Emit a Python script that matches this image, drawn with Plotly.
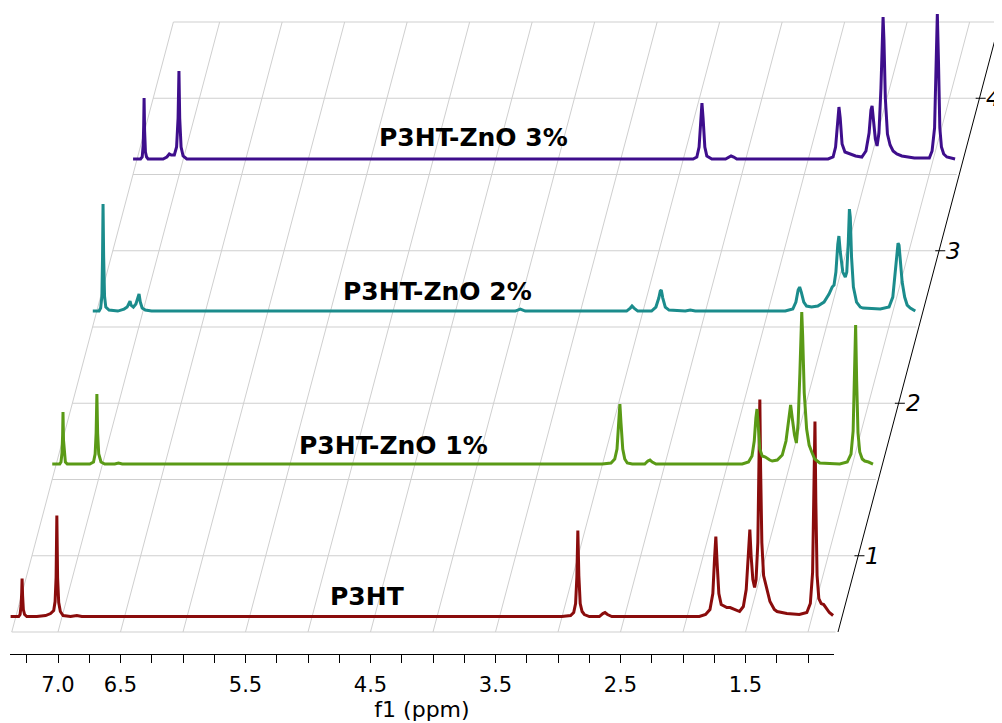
import plotly.graph_objects as go

# ---------------- data: (ppm, intensity) ----------------
p3ht = [(7.41, 1), (7.345, 1), (7.334, 3), (7.326, 12), (7.321, 25), (7.318, 39), (7.314, 22), (7.308, 8),
        (7.298, 3), (7.28, 1),
        (7.20, 1), (7.13, 2), (7.09, 4), (7.065, 7), (7.054, 16), (7.046, 40), (7.040, 102), (7.034, 40),
        (7.025, 15), (7.012, 6), (6.99, 2), (6.93, 1), (6.88, 2), (6.84, 1), (3.00, 1), (2.93, 2), (2.905, 5),
        (2.890, 14), (2.880, 40), (2.872, 87), (2.864, 42), (2.853, 14), (2.838, 6), (2.82, 3), (2.78, 1),
        (2.70, 1), (2.672, 4), (2.655, 5), (2.635, 3), (2.60, 1), (1.90, 1), (1.85, 3), (1.815, 8),
        (1.792, 24), (1.778, 60), (1.768, 81), (1.758, 55), (1.744, 24), (1.725, 13), (1.68, 10),
        (1.654, 10), (1.62, 8), (1.578, 6), (1.548, 11), (1.525, 28), (1.507, 65), (1.496, 88),
        (1.486, 62), (1.472, 38), (1.458, 30), (1.446, 38), (1.432, 75), (1.422, 150), (1.416, 218),
        (1.410, 150), (1.400, 75), (1.386, 42), (1.370, 33), (1.358, 28), (1.335, 16), (1.30, 8),
        (1.278, 6), (1.20, 4), (1.10, 3), (1.04, 5), (1.012, 14), (0.994, 45), (0.983, 115), (0.975, 196),
        (0.968, 115), (0.958, 42), (0.944, 19), (0.925, 14), (0.905, 13), (0.89, 10), (0.86, 5), (0.83, 2)]

zno1 = [(7.40, 1), (7.34, 1), (7.330, 3), (7.322, 12), (7.317, 30), (7.314, 53), (7.310, 25), (7.303, 8),
        (7.295, 3), (7.28, 1),
        (7.10, 1), (7.07, 3), (7.057, 11), (7.049, 32), (7.043, 71), (7.037, 32), (7.028, 11), (7.01, 3),
        (6.98, 1), (6.90, 1), (6.87, 2), (6.84, 1), (3.00, 1), (2.93, 2), (2.900, 6), (2.882, 16),
        (2.869, 42), (2.859, 61), (2.850, 42), (2.836, 16), (2.82, 6), (2.80, 2), (2.76, 1), (2.66, 1),
        (2.635, 4), (2.618, 5), (2.60, 3), (2.57, 1), (1.88, 1), (1.83, 3), (1.802, 9), (1.784, 24),
        (1.771, 47), (1.762, 56), (1.753, 42), (1.740, 16), (1.720, 9), (1.695, 8), (1.66, 5), (1.64, 4),
        (1.60, 5), (1.56, 10), (1.530, 24), (1.510, 47), (1.493, 60), (1.478, 45), (1.462, 30),
        (1.447, 22), (1.433, 42), (1.419, 92), (1.410, 140), (1.404, 153), (1.397, 130), (1.384, 72),
        (1.365, 36), (1.345, 20), (1.324, 13), (1.30, 6), (1.26, 2), (1.10, 1), (1.04, 3), (1.010, 11),
        (0.993, 34), (0.982, 85), (0.973, 140), (0.965, 85), (0.954, 32), (0.940, 13), (0.920, 6),
        (0.90, 4), (0.87, 3), (0.834, 1)]

zno2 = [(7.40, 1), (7.35, 1), (7.337, 4), (7.327, 16), (7.322, 55), (7.318, 108), (7.313, 55), (7.306, 16),
        (7.296, 5), (7.27, 2), (7.20, 1), (7.15, 3), (7.125, 5), (7.110, 9), (7.102, 11), (7.094, 7),
        (7.075, 5), (7.055, 8), (7.040, 14), (7.030, 18), (7.020, 10), (7.005, 4), (6.98, 2), (6.93, 1),
        (4.02, 1), (3.98, 3), (3.94, 1), (3.13, 1), (3.10, 4), (3.086, 6), (3.07, 4), (3.04, 1), (2.93, 1),
        (2.895, 5), (2.872, 14), (2.860, 21), (2.852, 22), (2.840, 14), (2.82, 5), (2.79, 2), (2.66, 1),
        (2.62, 2), (2.58, 1), (1.86, 1), (1.80, 3), (1.775, 10), (1.757, 22), (1.745, 25), (1.732, 20),
        (1.712, 10), (1.69, 6), (1.65, 5), (1.60, 6), (1.55, 10), (1.51, 18), (1.485, 25), (1.470, 27),
        (1.455, 40), (1.440, 68), (1.431, 76), (1.420, 60), (1.400, 40), (1.380, 35), (1.368, 40),
        (1.356, 70), (1.347, 103), (1.340, 95), (1.330, 55), (1.315, 25), (1.290, 10), (1.26, 5),
        (1.238, 4), (1.10, 3), (1.03, 5), (1.000, 15), (0.980, 40), (0.966, 65), (0.958, 69), (0.950, 67),
        (0.940, 55), (0.925, 30), (0.905, 15), (0.885, 7), (0.86, 4), (0.82, 1)]

zno3 = [(7.40, 1), (7.34, 1), (7.327, 3), (7.319, 15), (7.315, 35), (7.312, 62), (7.308, 30), (7.301, 8),
        (7.292, 3), (7.28, 1),
        (7.16, 1), (7.13, 3), (7.110, 6), (7.095, 5), (7.07, 5), (7.052, 13), (7.040, 42), (7.033, 89),
        (7.027, 42), (7.016, 13), (7.00, 4), (6.97, 1), (2.92, 1), (2.89, 3), (2.872, 13), (2.858, 42),
        (2.849, 57), (2.840, 42), (2.826, 13), (2.81, 4), (2.77, 1), (2.66, 1), (2.635, 3), (2.616, 4),
        (2.595, 3), (2.57, 1), (1.84, 1), (1.80, 3), (1.780, 13), (1.764, 42), (1.753, 53), (1.743, 42),
        (1.728, 16), (1.705, 8), (1.68, 7), (1.664, 6), (1.62, 4), (1.57, 3), (1.537, 9), (1.512, 27),
        (1.497, 50), (1.488, 54), (1.478, 42), (1.462, 21), (1.448, 14), (1.433, 27), (1.417, 72),
        (1.407, 130), (1.400, 143), (1.393, 120), (1.382, 62), (1.365, 26), (1.344, 15), (1.32, 9),
        (1.29, 6), (1.25, 4), (1.15, 2), (1.03, 2), (1.008, 9), (0.988, 32), (0.975, 100), (0.966, 146),
        (0.957, 100), (0.946, 32), (0.933, 13), (0.915, 6), (0.89, 3), (0.86, 2), (0.824, 1)]

spectra = [p3ht, zno1, zno2, zno3]
names = ["P3HT", "P3HT-ZnO 1%", "P3HT-ZnO 2%", "P3HT-ZnO 3%"]
colors = ["#8a0c0c", "#5a9a16", "#1b8c8c", "#3e0e8c"]
baselines = [0.595, 1.595, 2.598, 3.595]           # stacking level of each trace
label_ppm = [4.528, 4.32, 3.968, 3.68]
label_level = [0.73, 1.72, 2.73, 3.743]

z_levels = [1, 2, 3, 4]
z_labels = ["1", "2", "3", "4"]
x_label_vals = [7.0, 6.5, 5.5, 4.5, 3.5, 2.5, 1.5]
x_label_text = ["7.0", "6.5", "5.5", "4.5", "3.5", "2.5", "1.5"]
grid_ppm = [7.0, 6.5, 6.0, 5.5, 5.0, 4.5, 4.0, 3.5, 3.0, 2.5, 2.0, 1.5, 1.0]
grid_levels = [0.5, 1.0, 1.5, 2.0, 2.5, 3.0, 3.5, 4.0, 4.5]

# ---------------- geometry of the oblique stack ----------------
SKEW = 0.3233          # ppm shift per stacking level
FLOOR = 0.5
TOP = 4.5
ISCALE = 1 / 152.5     # intensity units -> level units
LEFT, RIGHT = 7.37, 0.78


def shift(level):
    return SKEW * (level - FLOOR)


fig = go.Figure()

for spec, name, col, base in zip(spectra, names, colors, baselines):
    fig.add_trace(go.Scatter(
        x=[p - shift(base) for p, _ in spec],
        y=[base + h * ISCALE for _, h in spec],
        mode="lines", line=dict(color=col, width=3), name=name,
        showlegend=False, hoverinfo="skip", xaxis="x", yaxis="y"))

shapes = []
grey = dict(color="#cfcfcf", width=1)
for L in grid_levels:
    shapes.append(dict(type="line", xref="x", yref="y", layer="below",
                       x0=LEFT - shift(L), x1=RIGHT - shift(L), y0=L, y1=L, line=grey))
for p in [LEFT] + grid_ppm:
    shapes.append(dict(type="line", xref="x", yref="y", layer="below",
                       x0=p, x1=p - shift(TOP), y0=FLOOR, y1=TOP, line=grey))
# slanted vertical (stack) axis
ZX = RIGHT - 0.02
shapes.append(dict(type="line", xref="x", yref="y", x0=ZX, x1=ZX - shift(TOP),
                   y0=FLOOR, y1=TOP, line=dict(color="black", width=1)))
annotations = []
for L, t in zip(z_levels, z_labels):
    xa = ZX - shift(L)
    shapes.append(dict(type="line", xref="x", yref="y", x0=xa + 0.03, x1=xa - 0.05,
                       y0=L, y1=L, line=dict(color="black", width=1)))
    annotations.append(dict(x=xa, y=L, xref="x", yref="y", text="<i>" + t + "</i>",
                            showarrow=False, xanchor="left", yanchor="middle", xshift=5,
                            font=dict(family="DejaVu Sans", size=23, color="black")))

for name, lp, ll in zip(names, label_ppm, label_level):
    annotations.append(dict(x=lp, y=ll, xref="x", yref="y", text="<b>" + name + "</b>",
                            showarrow=False, xanchor="center", yanchor="middle",
                            font=dict(family="DejaVu Sans", size=25, color="black")))

# dummy trace for the bottom ppm axis subplot
fig.add_trace(go.Scatter(x=[7.0], y=[0], mode="markers", marker=dict(opacity=0),
                         showlegend=False, hoverinfo="skip", xaxis="x2", yaxis="y2"))

tick_vals = [7.25 - 0.25 * i for i in range(26)]
tick_text = [x_label_text[x_label_vals.index(v)] if v in x_label_vals else "" for v in tick_vals]

# the page body adds an 8 px margin, so the figure is 8 px smaller than the window
fig.update_layout(
    width=994, height=715,
    margin=dict(l=2, r=0, t=0, b=69),
    paper_bgcolor="white", plot_bgcolor="rgba(0,0,0,0)",
    shapes=shapes, annotations=annotations,
    xaxis=dict(range=[7.384, -0.552], visible=False, domain=[0, 1]),
    yaxis=dict(range=[0.4148, 4.5918], visible=False, domain=[0.013932, 1]),
    xaxis2=dict(range=[7.384, 0.792], domain=[0, 0.83065], anchor="y2",
                showline=True, linecolor="black", linewidth=1, showgrid=False, zeroline=False,
                ticks="outside", ticklen=8, tickcolor="black", tickwidth=1,
                tickvals=tick_vals, ticktext=tick_text, ticklabelstandoff=4,
                tickfont=dict(family="DejaVu Sans", size=21, color="black"),
                title=dict(text="f1 (ppm)", standoff=0,
                           font=dict(family="DejaVu Sans", size=22, color="black"))),
    yaxis2=dict(range=[0, 1], domain=[0, 0.005], anchor="x2", visible=False),
)

fig.write_html("out.html")
